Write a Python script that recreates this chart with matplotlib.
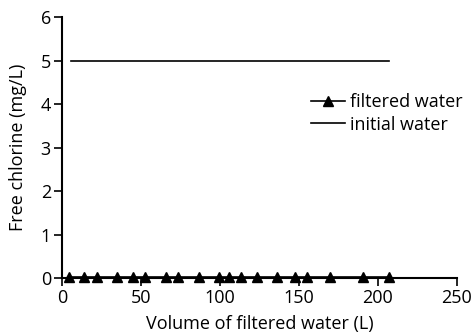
import matplotlib
matplotlib.use("Agg")
import matplotlib.pyplot as plt

volume = [4.4, 13.9, 22.4, 35.0, 44.8, 52.6, 65.7, 73.7, 86.8, 99.5, 106.0,
          113.2, 123.4, 136.1, 147.7, 155.4, 169.8, 190.9, 207.4]
filtered_chlorine = [0.03] * len(volume)
initial_x = [5.5, 207.4]
initial_chlorine = [5, 5]

plt.rcParams['font.family'] = ['Open Sans', 'DejaVu Sans']

fig = plt.figure(figsize=(4.74, 3.35), dpi=100)
ax = fig.add_axes([0.1308, 0.170, 0.8327, 0.779])

ax.plot(volume, filtered_chlorine, color='black', marker='^', markersize=7,
        linewidth=1.2, label='filtered water', clip_on=False, zorder=3)
ax.plot(initial_x, initial_chlorine, color='black', linewidth=1.2,
        label='initial water')

ax.set_xlim(0, 250)
ax.set_ylim(0, 6)
ax.set_xticks([0, 50, 100, 150, 200, 250])
ax.set_yticks([0, 1, 2, 3, 4, 5, 6])
ax.set_xlabel('Volume of filtered water (L)', fontsize=13, labelpad=6)
ax.set_ylabel('Free chlorine (mg/L)', fontsize=13, labelpad=10)
ax.tick_params(direction='out', length=6, width=1.2, labelsize=13, pad=2)
for s in ['top', 'right']:
    ax.spines[s].set_visible(False)
for s in ['left', 'bottom']:
    ax.spines[s].set_linewidth(1.5)

ax.legend(loc='upper left', bbox_to_anchor=(0.631, 0.708), frameon=False,
          fontsize=13, handlelength=1.9, handletextpad=0.25, labelspacing=0.25,
          borderaxespad=0, borderpad=0)

fig.savefig('out.png', dpi=100)
